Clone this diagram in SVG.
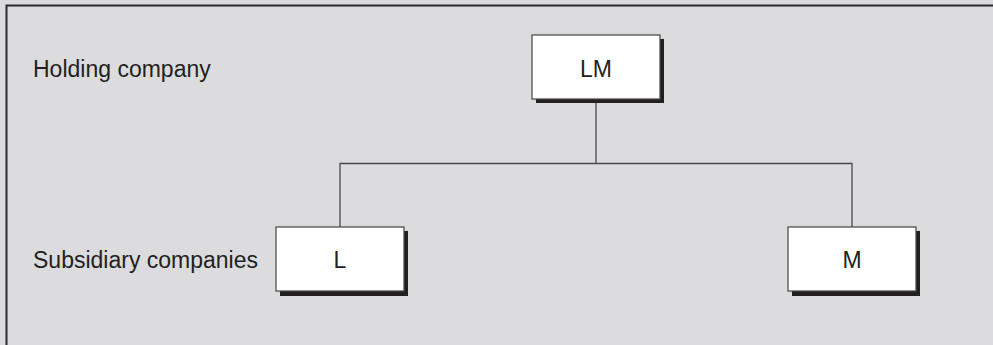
<svg xmlns="http://www.w3.org/2000/svg" width="993" height="345" viewBox="0 0 993 345">
<style>
.bg{fill:#dcdcde}
.frame{fill:none;stroke:#2b2b2b;stroke-width:2}
.box{fill:#ffffff;stroke:#444;stroke-width:1.2}
.shadow{fill:#231f20}
.line{fill:none;stroke:#4a4a4a;stroke-width:1.3}
text{font-family:"Liberation Sans",Arial,sans-serif;font-size:23px;fill:#231f20}
.c{text-anchor:middle}
</style>
<rect class="bg" x="0" y="0" width="993" height="345"/>
<path class="frame" d="M6.5,345 V5.5 H993"/>
<g id="labels">
<text x="33" y="77">Holding company</text>
<text x="33" y="268">Subsidiary companies</text>
</g>
<g id="connectors">
<path class="line" d="M596,99 V163.5 M340,227 V163.5 H852 V227"/>
</g>
<g id="node-LM">
<rect class="shadow" x="536" y="39" width="128" height="64"/>
<rect class="box" x="532" y="35" width="128" height="64"/>
<text class="c" x="596" y="77">LM</text>
</g>
<g id="node-L">
<rect class="shadow" x="280" y="231" width="128" height="65"/>
<rect class="box" x="276" y="227" width="128" height="64"/>
<text class="c" x="340" y="268">L</text>
</g>
<g id="node-M">
<rect class="shadow" x="792" y="231" width="128" height="65"/>
<rect class="box" x="788" y="227" width="128" height="64"/>
<text class="c" x="852" y="268">M</text>
</g>
</svg>
